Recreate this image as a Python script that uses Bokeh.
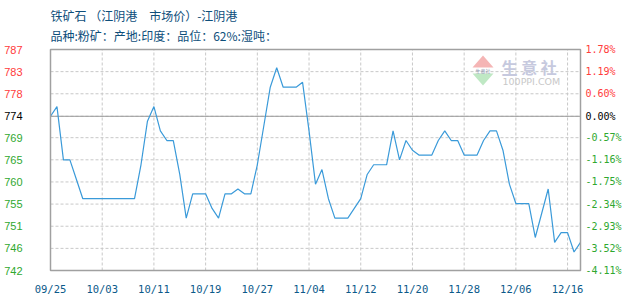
from bokeh.plotting import figure
from bokeh.models import Range1d, Label, PolyAnnotation
from bokeh.core.properties import value
from bokeh.embed import file_html
from bokeh.resources import INLINE

# ---- data ----
prices = [774, 776, 765, 765, 761, 757, 757, 757, 757, 757, 757, 757, 757, 757,
          764, 773, 776, 771, 769, 769, 762, 753, 758, 758, 758, 755, 753, 758,
          758, 759, 758, 758, 764, 772, 780, 784, 780, 780, 780, 781, 771, 760,
          763, 757, 753, 753, 753, 755, 757, 762, 764, 764, 764, 771, 765, 769,
          767, 766, 766, 766, 769, 771, 769, 769, 766, 766, 766, 769, 771, 771,
          767, 760, 756, 756, 756, 749, 754, 759, 748, 750, 750, 746, 748]
date_ticks = [0, 8, 16, 24, 32, 40, 48, 56, 64, 72, 80]
date_labels = ["09/25", "10/03", "10/11", "10/19", "10/27", "11/04",
               "11/12", "11/20", "11/28", "12/06", "12/16"]
base_price = 774
pct_values = [1.78, 1.19, 0.60, 0.00, -0.57, -1.16, -1.75, -2.34, -2.93, -3.52, -4.11]
pct_labels = ["1.78%", "1.19%", "0.60%", "0.00%", "-0.57%", "-1.16%",
              "-1.75%", "-2.34%", "-2.93%", "-3.52%", "-4.11%"]
price_labels = ["787", "783", "778", "774", "769", "765", "760", "755", "751", "746", "742"]
title_line1 = "铁矿石 （江阴港\u3000市场价）-江阴港"
title_line2 = "品种:粉矿：产地:印度：品位：62%:湿吨："

# ---- styling / layout ----
W, H = 630, 300
PLOT_L, PLOT_R, PLOT_T, PLOT_B = 50, 580, 49, 270
RED, GREEN, BLACK = "#ff3b3b", "#2fa82f", "#000000"
TITLE_BLUE = "#0d4e7a"
AXIS_BLUE = "#0b5a8a"
GRID = "#c8c8c8"
BORDER = "#a0a0a0"

idx = list(range(len(prices)))
tick_vals = [base_price * (1 + v / 100) for v in pct_values]
label_colors = [RED if v > 0 else (BLACK if v == 0 else GREEN) for v in pct_values]
x0, x1 = 0, len(prices) - 1
ymin, ymax = min(tick_vals), max(tick_vals)

# map the plot box onto the canvas (frame covers whole canvas)
ppx = (x1 - x0) / (PLOT_R - PLOT_L)
ppy = (ymax - ymin) / (PLOT_B - PLOT_T)
x_range = Range1d(x0 - PLOT_L * ppx, x1 + (W - PLOT_R) * ppx)
y_range = Range1d(ymin - (H - PLOT_B) * ppy, ymax + PLOT_T * ppy)

p = figure(width=W, height=H, output_backend="svg", toolbar_location=None,
           x_range=x_range, y_range=y_range, x_axis_type=None, y_axis_type=None,
           min_border=0)
p.background_fill_color = "white"
p.border_fill_color = "white"
p.outline_line_color = None

# grid lines
n = len(tick_vals)
p.segment(x0=[x0] * (n - 2), y0=tick_vals[1:-1], x1=[x1] * (n - 2), y1=tick_vals[1:-1],
          line_color=GRID, line_width=1, line_dash="3 2")
m = len(date_ticks) - 1
p.segment(x0=date_ticks[1:], y0=[ymin] * m, x1=date_ticks[1:], y1=[ymax] * m,
          line_color=GRID, line_width=1, line_dash="3 2")

# baseline at first price
p.segment(x0=[x0], y0=[base_price], x1=[x1], y1=[base_price],
          line_color="#999999", line_width=1)

# watermark
p.add_layout(PolyAnnotation(xs=[482.5, 472, 493], ys=[245, 233, 233],
                            xs_units="screen", ys_units="screen",
                            fill_color="#f5b5b5", fill_alpha=1, line_color=None))
p.add_layout(PolyAnnotation(xs=[472, 493, 482.5], ys=[227, 227, 215],
                            xs_units="screen", ys_units="screen",
                            fill_color="#bfe8c4", fill_alpha=1, line_color=None))
p.add_layout(Label(x=482.5, y=230, x_units="screen", y_units="screen",
                   text="生意社", text_font="Noto Sans CJK SC", text_font_size="5px",
                   text_color="#8f97b0", text_baseline="middle", text_align="center"))
p.add_layout(Label(x=501, y=234, x_units="screen", y_units="screen",
                   text="生 意 社", text_font="Noto Sans CJK SC", text_font_size="16px",
                   text_font_style="bold",
                   text_color="#c6c9de", text_baseline="middle"))
p.add_layout(Label(x=502, y=219.5, x_units="screen", y_units="screen",
                   text="100PPI.COM", text_font="DejaVu Sans", text_font_size="9.5px",
                   text_color="#c8c8c8", text_baseline="middle"))

# the series
p.line(idx, prices, line_color="#3a9ad9", line_width=1.2)

# plot box
p.quad(left=[x0], right=[x1], bottom=[ymin], top=[ymax],
       fill_color=None, line_color=BORDER, line_width=1.5)

# left and right value labels
p.text(x=[x0] * n, y=tick_vals, text=price_labels, text_color=label_colors,
       x_offset=-28, text_align="right", text_baseline="middle",
       text_font=value("Liberation Sans"), text_font_size="11px")
p.text(x=[x1] * n, y=tick_vals, text=pct_labels, text_color=label_colors,
       x_offset=5, text_align="left", text_baseline="middle",
       text_font=value("DejaVu Sans Mono"), text_font_size="10px")

# date labels
p.text(x=date_ticks, y=[ymin] * len(date_ticks), text=date_labels,
       y_offset=18, text_align="center", text_baseline="middle",
       text_color=AXIS_BLUE, text_font=value("DejaVu Sans Mono"), text_font_size="10.5px")

# titles
p.text(x=[x0], y=[ymax], text=[title_line1], y_offset=-34.5,
       text_align="left", text_baseline="middle", text_color=TITLE_BLUE,
       text_font=value("Noto Sans CJK SC"), text_font_size="12px")
p.text(x=[x0], y=[ymax], text=[title_line2], y_offset=-14,
       text_align="left", text_baseline="middle", text_color=TITLE_BLUE,
       text_font=value("Noto Sans CJK SC"), text_font_size="12px")

open("out.html", "w").write(file_html(p, INLINE))
